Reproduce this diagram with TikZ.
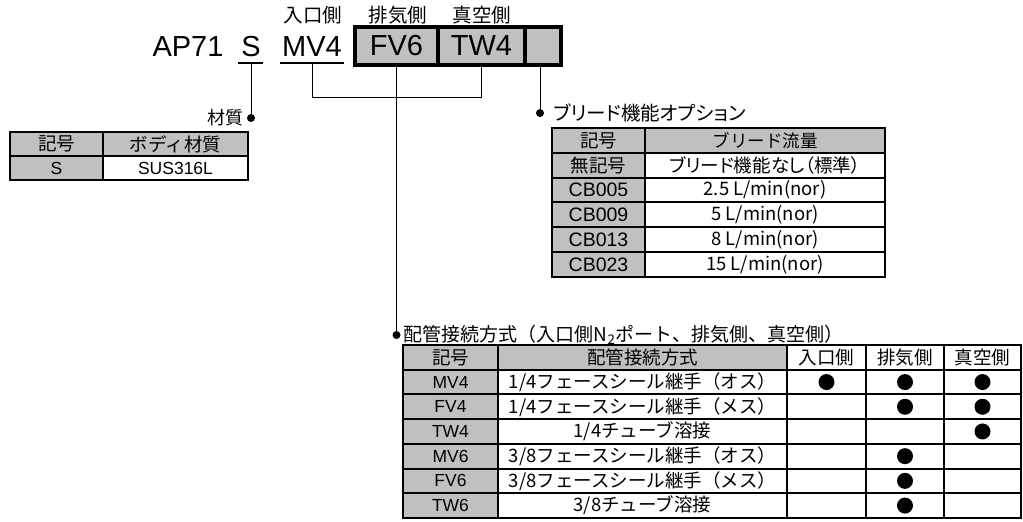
\documentclass[tikz,border=0pt]{standalone}
\usepackage{fontspec}
\setmainfont{Liberation Sans}
\newfontfamily\jp{Noto Sans CJK JP}
\newfontfamily\jpp[RawFeature=+palt]{Noto Sans CJK JP}
\definecolor{cg}{RGB}{192,192,192}
\tikzset{
  cell/.style={draw, line width=2pt, inner sep=0pt, outer sep=0pt, anchor=north west, font=\jp\fontsize{18.5}{18.5}\selectfont},
  topcell/.style={draw, line width=4pt, fill=cg, inner sep=0pt, outer sep=0pt, anchor=north west, font=\fontsize{29}{29}\selectfont},
  big/.style={inner sep=0pt, anchor=base, font=\fontsize{29}{29}\selectfont},
  lbl/.style={inner sep=0pt, font=\jp\fontsize{18}{18}\selectfont},
  cdot/.style={circle, fill=black, inner sep=0pt, minimum size=8pt},
  tdot/.style={circle, fill=black, inner sep=0pt, minimum size=16pt},
  conn/.style={line width=1pt},
  lat/.style={font=\fontsize{17.5}{17.5}\selectfont},
  latb/.style={font=\fontsize{19.5}{19.5}\selectfont}
}
\newcommand\C[7]{\node[cell,fill=#6,minimum width=#4pt,minimum height=#5pt] (#1) at (#2,#3) {#7};}
\newcommand\Cl[7]{\node[cell,lat,fill=#6,minimum width=#4pt,minimum height=#5pt] (#1) at (#2,#3) {#7};}
\newcommand\Cb[7]{\node[cell,latb,fill=#6,minimum width=#4pt,minimum height=#5pt] (#1) at (#2,#3) {#7};}
\begin{document}
\begin{tikzpicture}[x=1pt,y=-1pt]
\useasboundingbox (0,0) rectangle (1023,522);
% top code
\node[big] (ap) at (188,56) {AP71};
\node[big] (cS) at (251,56) {S};
\node[big] (cMV) at (312,56) {MV4};
\node[topcell, minimum width=83pt, minimum height=38pt] (bFV) at (355,27) {FV6};
\node[topcell, minimum width=87pt, minimum height=38pt] (bTW) at (438,27) {TW4};
\node[topcell, minimum width=36pt, minimum height=38pt] (bE) at (525,27) {};
\node[lbl, font=\jp\fontsize{19.5}{19.5}\selectfont] (lin) at (313,15) {入口側};
\node[lbl, font=\jp\fontsize{19.5}{19.5}\selectfont] (lex) at (398,15) {排気側};
\node[lbl, font=\jp\fontsize{19.5}{19.5}\selectfont] (lva) at (482,15) {真空側};
% underlines
\coordinate (uS1) at (238,63); \coordinate (uS2) at (263,63);
\coordinate (uM1) at (280,63); \coordinate (uM2) at (344,63);
\draw[line width=1.5pt] (uS1) -- (uS2);
\draw[line width=1.5pt] (uM1) -- (uM2);
\coordinate (uSm) at (251,63);
\coordinate (uMm) at (312,63);
% connector rows
\coordinate (jrow) at (0,97);
\coordinate (prow) at (0,335);
\node[cdot] (mdot) at (251,118) {};
\node[cdot] (bdot) at (540,113) {};
\node[cdot] (pdot) at (bFV.south |- prow) {};
\draw[conn] (uSm) -- (mdot);
\draw[conn] (uMm) |- (bTW.south |- jrow) -- (bTW.south);
\draw[conn] (bFV.south) -- (pdot);
\draw[conn] (bdot |- bE.south) -- (bdot);
% labels
\node[lbl, anchor=east] (lmat) at ([xshift=-3pt]mdot.west) {材質};
\node[lbl, anchor=west, font=\jpp\fontsize{19.5}{19.5}\selectfont] (lble) at ([xshift=9pt]bdot.east) {ブリード機能オプション};
\node[lbl, anchor=west, font=\jp\fontsize{19}{19}\selectfont] (lpip) at ([xshift=3pt]pdot.east) {配管接続方式（入口側N\textsubscript{2}ポート、排気側、真空側）};
% material table
\C{m11}{10}{132}{93}{24}{cg}{記号}
\C{m12}{103}{132}{145}{24}{cg}{ボディ材質}
\Cl{m21}{10}{156}{93}{24}{cg}{S}
\Cl{m22}{103}{156}{145}{24}{white}{SUS316L}
% bleed table
\C{b11}{552}{128}{93}{24.8}{cg}{記号}
\node[cell,fill=cg,minimum width=240pt,minimum height=24.8pt,font=\jp\fontsize{17.5}{17.5}\selectfont] (b12) at (645,128) {ブリード流量};
\C{b21}{552}{152.8}{93}{24.8}{cg}{無記号}
\node[cell,fill=white,minimum width=240pt,minimum height=24.8pt,font=\jpp\fontsize{18.5}{18.5}\selectfont] (b22) at (645,152.8) {ブリード機能なし（標準）};
\Cb{b31}{552}{177.6}{93}{24.8}{cg}{CB005}
\C{b32}{645}{177.6}{240}{24.8}{white}{2.5 L/min(nor)}
\Cb{b41}{552}{202.4}{93}{24.8}{cg}{CB009}
\C{b42}{645}{202.4}{240}{24.8}{white}{5 L/min(nor)}
\Cb{b51}{552}{227.2}{93}{24.8}{cg}{CB013}
\C{b52}{645}{227.2}{240}{24.8}{white}{8 L/min(nor)}
\Cb{b61}{552}{252}{93}{24.8}{cg}{CB023}
\C{b62}{645}{252}{240}{24.8}{white}{15 L/min(nor)}
% piping table
\C{p11}{403}{345}{95}{24.7}{cg}{記号}
\C{p12}{498}{345}{289}{24.7}{cg}{配管接続方式}
\C{p13}{787}{345}{79}{24.7}{white}{入口側}
\C{p14}{866}{345}{78}{24.7}{white}{排気側}
\C{p15}{944}{345}{77}{24.7}{white}{真空側}
\Cl{p21}{403}{369.7}{95}{24.7}{cg}{MV4}
\C{p22}{498}{369.7}{289}{24.7}{white}{1/4フェースシール継手（オス）}
\C{p23}{787}{369.7}{79}{24.7}{white}{}
\C{p24}{866}{369.7}{78}{24.7}{white}{}
\C{p25}{944}{369.7}{77}{24.7}{white}{}
\Cl{p31}{403}{394.4}{95}{24.7}{cg}{FV4}
\C{p32}{498}{394.4}{289}{24.7}{white}{1/4フェースシール継手（メス）}
\C{p33}{787}{394.4}{79}{24.7}{white}{}
\C{p34}{866}{394.4}{78}{24.7}{white}{}
\C{p35}{944}{394.4}{77}{24.7}{white}{}
\Cl{p41}{403}{419.1}{95}{24.7}{cg}{TW4}
\C{p42}{498}{419.1}{289}{24.7}{white}{1/4チューブ溶接}
\C{p43}{787}{419.1}{79}{24.7}{white}{}
\C{p44}{866}{419.1}{78}{24.7}{white}{}
\C{p45}{944}{419.1}{77}{24.7}{white}{}
\Cl{p51}{403}{443.8}{95}{24.7}{cg}{MV6}
\C{p52}{498}{443.8}{289}{24.7}{white}{3/8フェースシール継手（オス）}
\C{p53}{787}{443.8}{79}{24.7}{white}{}
\C{p54}{866}{443.8}{78}{24.7}{white}{}
\C{p55}{944}{443.8}{77}{24.7}{white}{}
\Cl{p61}{403}{468.5}{95}{24.7}{cg}{FV6}
\C{p62}{498}{468.5}{289}{24.7}{white}{3/8フェースシール継手（メス）}
\C{p63}{787}{468.5}{79}{24.7}{white}{}
\C{p64}{866}{468.5}{78}{24.7}{white}{}
\C{p65}{944}{468.5}{77}{24.7}{white}{}
\Cl{p71}{403}{493.2}{95}{24.7}{cg}{TW6}
\C{p72}{498}{493.2}{289}{24.7}{white}{3/8チューブ溶接}
\C{p73}{787}{493.2}{79}{24.7}{white}{}
\C{p74}{866}{493.2}{78}{24.7}{white}{}
\C{p75}{944}{493.2}{77}{24.7}{white}{}
% marks
\node[tdot] (d23) at (p23.center) {};
\node[tdot] (d24) at (p24.center) {};
\node[tdot] (d25) at (p25.center) {};
\node[tdot] (d34) at (p34.center) {};
\node[tdot] (d35) at (p35.center) {};
\node[tdot] (d45) at (p45.center) {};
\node[tdot] (d54) at (p54.center) {};
\node[tdot] (d64) at (p64.center) {};
\node[tdot] (d74) at (p74.center) {};
\end{tikzpicture}
\end{document}
